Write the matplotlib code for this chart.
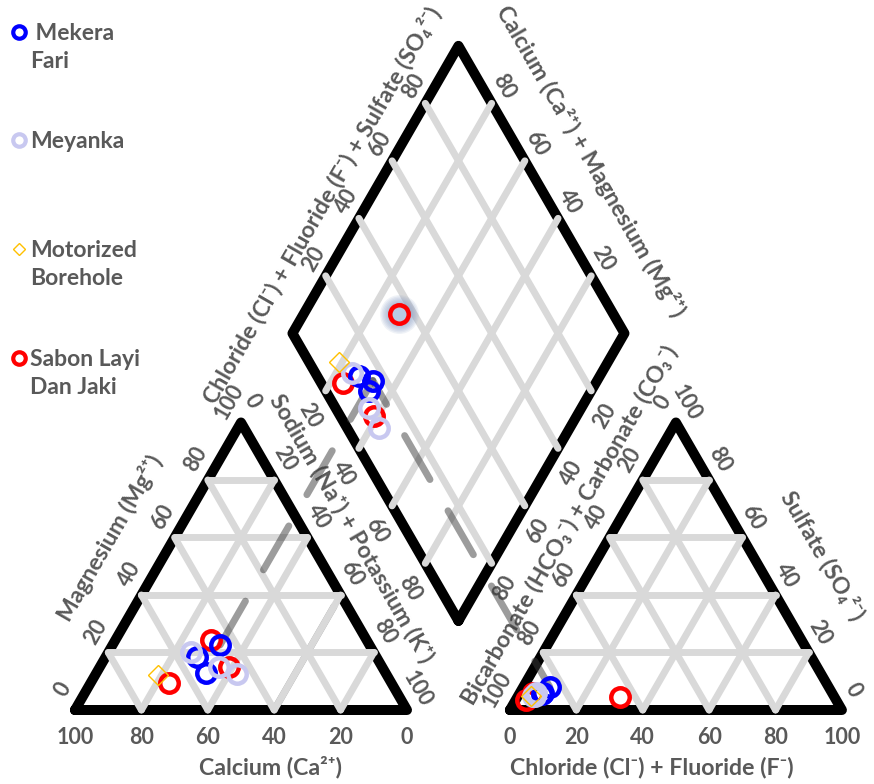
import numpy as np
import matplotlib.pyplot as plt

# ---------------- DATA ----------------
samples = ["Mekera\nFari", "Meyanka", "Motorized\nBorehole", "Sabon Layi\nDan Jaki"]
colors = ["#0000ff", "#c8c8f0", "#ffc000", "#ff0000"]
markers = ["o", "o", "D", "o"]

# cations (% meq)  -> Na+K = 100 - Ca - Mg
calcium = [[54, 45, 54], [55, 49, 45], [69], [67, 46, 47]]
magnesium = [[18.5, 22.6, 12.8], [20.3, 15.1, 12.5], [12], [9.3, 15.1, 24.3]]
# anions (% meq) -> HCO3+CO3 = 100 - Cl - SO4
chloride = [[7, 8, 7], [5, 5, 4.5], [4], [3, 4, 31]]
sulfate = [[5.5, 8, 6], [6, 5, 5], [5], [3.5, 6, 4.5]]

ticks = [0, 20, 40, 60, 80, 100]
grid_vals = [20, 40, 60, 80]

proj_sample = (0, 1)      # sample with projection lines
glow_sample = (3, 2)      # highlighted sample in the diamond
guide_na = 60             # extra dashed guide in the cation triangle
guide_mg = [2, 36]

# ---------------- GEOMETRY ----------------
S = 332.0
X0, Y0 = 75, 710
GAP = 0.31
H = np.sqrt(3) / 2
GRAY = "#595959"
FONT = ["Lato", "Noto Sans", "DejaVu Sans"]
TICK_FS = 15.5
TITLE_FS = 16.7


def cation_xy(ca, mg):
    na = 100 - ca - mg
    return na / 100 + mg / 200, mg / 100 * H


def anion_xy(cl, so4):
    return 1 + GAP + cl / 100 + so4 / 200, so4 / 100 * H


def diamond_xy(camg, clso4):
    bx, by = 1 + GAP / 2, GAP * H
    a, b = camg / 100, clso4 / 100
    return bx - 0.5 * a + 0.5 * b, by + H * a + H * b


fig = plt.figure(figsize=(8.74, 7.84), dpi=100)
ax = fig.add_axes([0, 0, 1, 1])
ax.set_xlim(-X0 / S, (874 - X0) / S)
ax.set_ylim(-(784 - Y0) / S, Y0 / S)
ax.axis("off")


def seg(p, q, **kw):
    ax.plot([p[0], q[0]], [p[1], q[1]], **kw)


def lab(p, s, dx=0, dy=0, rot=0, size=TICK_FS):
    ax.text(p[0] + dx / S, p[1] - dy / S, s, ha="center", va="center",
            rotation=rot, rotation_mode="anchor", fontsize=size,
            fontweight="bold", color=GRAY, family=FONT)


# outlines
edge = dict(color="black", lw=7.2, solid_joinstyle="round", solid_capstyle="round", zorder=2)
tri_l = [cation_xy(100, 0), cation_xy(0, 0), cation_xy(0, 100), cation_xy(100, 0)]
tri_r = [anion_xy(0, 0), anion_xy(100, 0), anion_xy(0, 100), anion_xy(0, 0)]
dia = [diamond_xy(0, 0), diamond_xy(100, 0), diamond_xy(100, 100), diamond_xy(0, 100), diamond_xy(0, 0)]
for poly in (tri_l, tri_r, dia):
    ax.plot([p[0] for p in poly], [p[1] for p in poly], **edge)

# grid
gk = dict(color="#d9d9d9", lw=5, solid_capstyle="round", zorder=3)
for v in grid_vals:
    seg(cation_xy(100 - v, v), cation_xy(0, v), **gk)
    seg(cation_xy(v, 0), cation_xy(v, 100 - v), **gk)
    seg(cation_xy(100 - v, 0), cation_xy(0, 100 - v), **gk)
    seg(anion_xy(100 - v, 0), anion_xy(0, 100 - v), **gk)
    seg(anion_xy(v, 0), anion_xy(v, 100 - v), **gk)
    seg(anion_xy(0, v), anion_xy(100 - v, v), **gk)
    seg(diamond_xy(v, 0), diamond_xy(v, 100), **gk)
    seg(diamond_xy(0, v), diamond_xy(100, v), **gk)

# projection lines
pk = dict(color="#3a3a3a", alpha=0.5, lw=5, dash_capstyle="round", zorder=4)
i, j = proj_sample
ca, mg = calcium[i][j], magnesium[i][j]
cl, so = chloride[i][j], sulfate[i][j]
pc = cation_xy(ca, mg)
pa = anion_xy(cl, so)
pd = diamond_xy(ca + mg, cl + so)
seg(pc, pd, linestyle=(0, (7.3, 5.2)), **pk)
seg(pa, pd, linestyle=(3.0, (7.3, 5.2)), **pk)
g0 = cation_xy(100 - guide_na - guide_mg[0], guide_mg[0])
g1 = cation_xy(100 - guide_na - guide_mg[1], guide_mg[1])
seg(g0, g1, color="#3a3a3a", alpha=0.5, lw=5, solid_capstyle="round", zorder=2.5)

# glow on the highlighted sample
i, j = glow_sample
gx, gy = diamond_xy(calcium[i][j] + magnesium[i][j], chloride[i][j] + sulfate[i][j])
for ms in np.linspace(28, 16, 7):
    ax.plot(gx, gy, "o", ms=ms, color="#7f96bf", alpha=0.12, mec="none", zorder=5)

# sample points
order = [3, 0, 1, 2]
for k in order:
    for j in range(len(calcium[k])):
        ca, mg = calcium[k][j], magnesium[k][j]
        cl, so = chloride[k][j], sulfate[k][j]
        pts = [cation_xy(ca, mg), anion_xy(cl, so), diamond_xy(ca + mg, cl + so)]
        for n, (x, y) in enumerate(pts):
            fill = "#b8cce4" if (k, j) == glow_sample and n == 2 else "none"
            if markers[k] == "D":
                ax.plot(x, y, "D", ms=10, mfc="none", mec=colors[k], mew=1, zorder=7)
            else:
                ax.plot(x, y, "o", ms=13.3, mfc=fill, mec=colors[k], mew=3.2, zorder=6)

# tick labels
for t in ticks:
    lab(cation_xy(t, 0), str(t), 0, 27)
    lab(cation_xy(100 - t, t), str(t), -12, -21, 60)
    lab(cation_xy(0, 100 - t), str(t), 11, -21, -60)
    lab(anion_xy(t, 0), str(t), 0, 27)
    lab(anion_xy(0, 100 - t), str(t), -13, -20, 60)
    lab(anion_xy(100 - t, t), str(t), 11, -20, -60)
for t in grid_vals:
    lab(diamond_xy(100, t), str(t), -12, -17, 60)
    lab(diamond_xy(t, 100), str(t), 12, -17, -60)
    lab(diamond_xy(100 - t, 0), str(t), -15.5, 25, -60)
    lab(diamond_xy(0, 100 - t), str(t), 13, 25, 60)


def title(px, py, s, rot=0):
    ax.text((px - X0) / S, (Y0 - py) / S, s, ha="center", va="center",
            rotation=rot, rotation_mode="anchor", fontsize=TITLE_FS,
            fontweight="bold", color=GRAY, family=FONT)


title(271, 767, "Calcium (Ca²⁺)")
title(652, 768, "Chloride (Cl⁻) + Fluoride (F⁻)")
title(110, 538, "Magnesium (Mg²⁺)", 60)
title(352, 528, "Sodium (Na⁺) + Potassium (K⁺)", -60)
title(322, 205, "Chloride (Cl⁻) + Fluoride (F⁻) + Sulfate (SO₄²⁻)", 60)
title(591, 161, "Calcium (Ca²⁺) + Magnesium (Mg²⁺)", -60)
title(570, 525, "Bicarbonate (HCO₃⁻) + Carbonate (CO₃⁻)", 60)
title(823, 555, "Sulfate (SO₄²⁻)", -60)

# legend
leg_y = [32, 140, 249, 358]
for k, name in enumerate(samples):
    mx, my = (19 - X0) / S, (Y0 - leg_y[k]) / S
    if markers[k] == "D":
        ax.plot(mx, my, "D", ms=6, mfc="none", mec=colors[k], mew=1, zorder=7)
    else:
        ax.plot(mx, my, "o", ms=9, mfc="none", mec=colors[k], mew=3, zorder=7)
    for n, line in enumerate(name.split("\n")):
        txt = " " + line if k == 0 and n == 0 else line
        ax.text((30 - X0) / S, (Y0 - leg_y[k] - 8 - 28 * n) / S, txt, ha="left",
                va="baseline", fontsize=16.5, fontweight="bold", color=GRAY, family=FONT)

fig.savefig("out.png", dpi=100)
